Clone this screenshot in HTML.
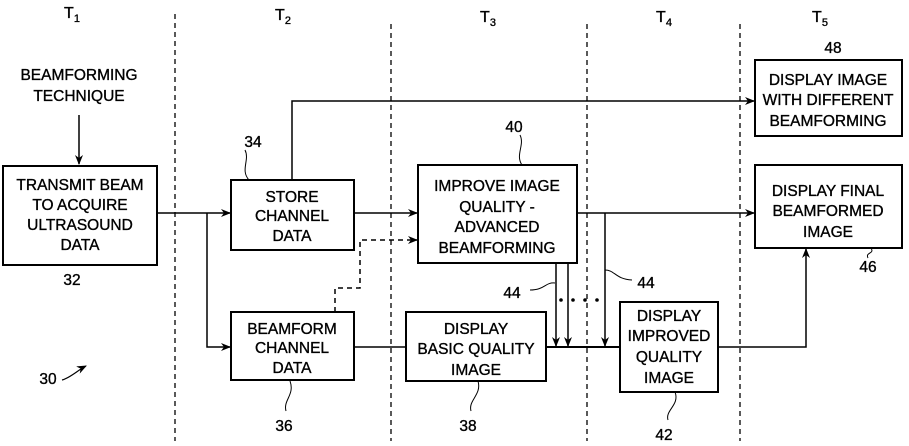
<!DOCTYPE html>
<html><head><meta charset="utf-8"><style>
body{margin:0;background:#fff}
svg text{font-family:"Liberation Sans",Arial,sans-serif;fill:#000;stroke:#000;stroke-width:0.35}
</style></head><body>
<svg width="909" height="441" viewBox="0 0 909 441" xmlns="http://www.w3.org/2000/svg">
<defs><marker id="a" markerWidth="10" markerHeight="8" refX="9" refY="4" orient="auto" markerUnits="userSpaceOnUse"><path d="M0,0 L10,4 L0,8 L3,4 Z" fill="#000"/></marker></defs>
<g stroke="#000" stroke-width="1.3" stroke-dasharray="5,4">
<line x1="175" y1="14" x2="175" y2="441"/><line x1="391" y1="24" x2="391" y2="441"/>
<line x1="587" y1="24" x2="587" y2="441"/><line x1="740" y1="24" x2="740" y2="441"/>
</g>
<g font-size="16" text-anchor="middle">
<text x="72" y="18">T<tspan font-size="11" dy="4">1</tspan></text>
<text x="283" y="20">T<tspan font-size="11" dy="4">2</tspan></text>
<text x="488" y="22">T<tspan font-size="11" dy="4">3</tspan></text>
<text x="664" y="22">T<tspan font-size="11" dy="4">4</tspan></text>
<text x="820" y="22">T<tspan font-size="11" dy="4">5</tspan></text>
</g>
<g fill="none" stroke="#000" stroke-width="2">
<rect x="3" y="166" width="154" height="99"/>
<rect x="231" y="180" width="123" height="70"/>
<rect x="231" y="312" width="123" height="68"/>
<rect x="418" y="165" width="159" height="98"/>
<rect x="406" y="312" width="140" height="69"/>
<rect x="620" y="302" width="98" height="90"/>
<rect x="755" y="60" width="147" height="76"/>
<rect x="755" y="165" width="147" height="83"/>
</g>
<g fill="none" stroke="#000" stroke-width="1.5">
<line x1="79" y1="115" x2="79" y2="164" marker-end="url(#a)"/>
<line x1="157" y1="213" x2="230" y2="213" marker-end="url(#a)"/>
<polyline points="207,213 207,347 230,347" marker-end="url(#a)"/>
<polyline points="292,180 292,101 754,101" marker-end="url(#a)"/>
<line x1="354" y1="213" x2="417" y2="213" marker-end="url(#a)"/>
<polyline points="335,312 335,288 360,288 360,240 417,240" stroke-dasharray="5,4" marker-end="url(#a)"/>
<line x1="354" y1="347" x2="406" y2="347"/>
<line x1="546" y1="347" x2="620" y2="347" stroke-width="2"/>
<line x1="556" y1="263" x2="556" y2="346" marker-end="url(#a)"/>
<line x1="568" y1="263" x2="568" y2="346" marker-end="url(#a)"/>
<line x1="577" y1="213" x2="754" y2="213" marker-end="url(#a)"/>
<line x1="605" y1="213" x2="605" y2="346" marker-end="url(#a)"/>
<polyline points="718,347 806,347 806,249" marker-end="url(#a)"/>
<path d="M530,290 C545,290 545,282 555,283" stroke-width="1"/>
<path d="M605,270 C615,270 615,279 632,280" stroke-width="1"/>
<path d="M245,150 C250,160 240,170 249,180" stroke-width="1"/>
<path d="M520,135 C525,145 515,155 522,165" stroke-width="1"/>
<path d="M871,248 C875,254 865,252 868,258" stroke-width="1"/>
<path d="M290,381 C295,395 283,400 286,411" stroke-width="1"/>
<path d="M478,381 C482,395 468,400 471,411" stroke-width="1"/>
<path d="M675,392 C680,405 665,410 668,420" stroke-width="1"/>
<path d="M62,380 C70,378 78,370 86,366" stroke-width="1.2" marker-end="url(#a)"/>
</g>
<g fill="#000"><circle cx="561" cy="300" r="1.8"/><circle cx="573" cy="300" r="1.8"/><circle cx="585" cy="300" r="1.8"/><circle cx="597" cy="300" r="1.8"/></g>
<g font-size="15.5" text-anchor="middle">
<text x="79" y="80">BEAMFORMING</text><text x="79" y="101">TECHNIQUE</text>
<text x="80" y="190">TRANSMIT BEAM</text><text x="80" y="210">TO ACQUIRE</text><text x="80" y="230">ULTRASOUND</text><text x="80" y="250">DATA</text>
<text x="292" y="202">STORE</text><text x="292" y="221">CHANNEL</text><text x="292" y="241">DATA</text>
<text x="292" y="334">BEAMFORM</text><text x="292" y="353">CHANNEL</text><text x="292" y="373">DATA</text>
<text x="497" y="191">IMPROVE IMAGE</text><text x="497" y="212">QUALITY -</text><text x="497" y="232">ADVANCED</text><text x="497" y="253">BEAMFORMING</text>
<text x="476" y="334">DISPLAY</text><text x="476" y="354">BASIC QUALITY</text><text x="476" y="375">IMAGE</text>
<text x="669" y="321">DISPLAY</text><text x="669" y="341">IMPROVED</text><text x="669" y="362">QUALITY</text><text x="669" y="383">IMAGE</text>
<text x="828" y="85">DISPLAY IMAGE</text><text x="828" y="105">WITH DIFFERENT</text><text x="828" y="126">BEAMFORMING</text>
<text x="828" y="196">DISPLAY FINAL</text><text x="828" y="216">BEAMFORMED</text><text x="828" y="237">IMAGE</text>
<text x="253" y="147">34</text><text x="72" y="285">32</text><text x="284" y="431">36</text><text x="468" y="431">38</text>
<text x="664" y="440">42</text><text x="514" y="132">40</text><text x="833" y="53">48</text><text x="868" y="272">46</text>
<text x="512" y="298">44</text><text x="646" y="288">44</text><text x="48" y="384">30</text>
</g>
</svg>
</body></html>
